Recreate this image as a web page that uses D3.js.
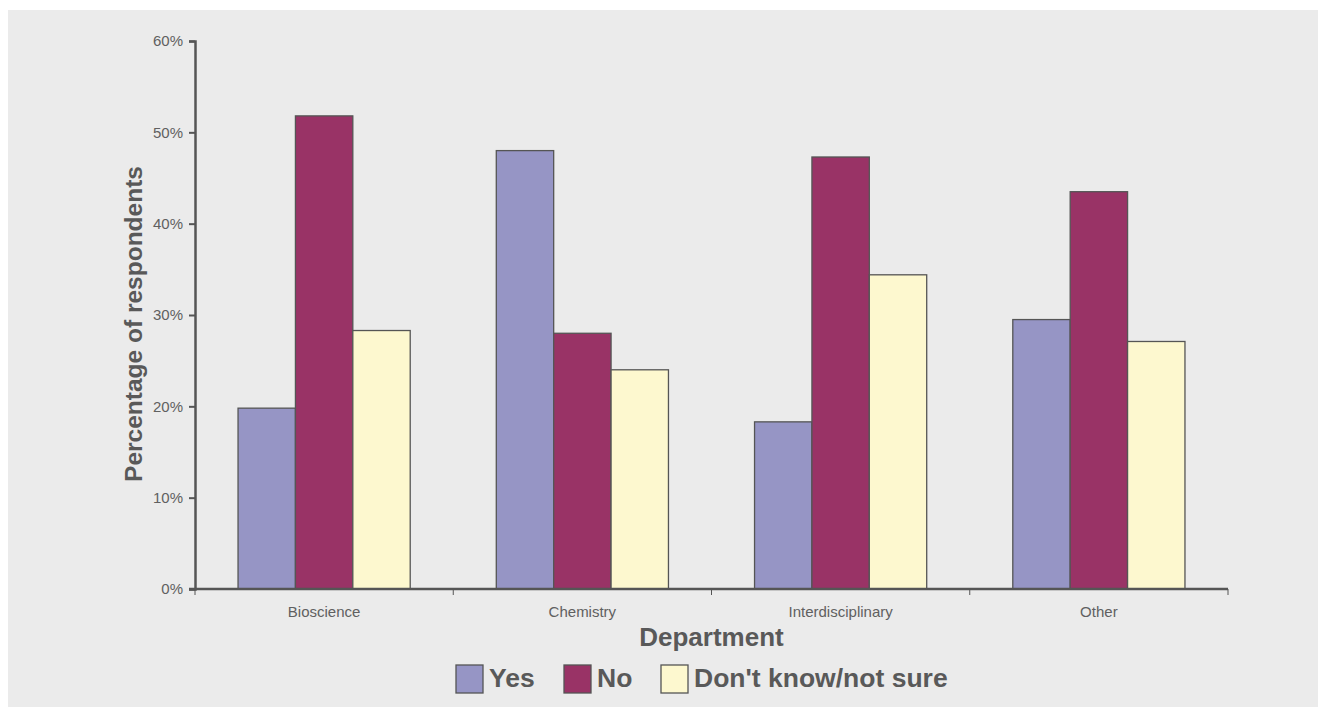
<!DOCTYPE html>
<html>
<head>
<meta charset="utf-8">
<script src="https://cdn.jsdelivr.net/npm/d3@7"></script>
<style>
  html, body { margin: 0; padding: 0; background: #ffffff; }
  svg { display: block; font-family: "Liberation Sans", Arial, sans-serif; }
</style>
</head>
<body>
<svg id="chart" width="1326" height="717"></svg>
<script>
// Survey responses by department (percentage of respondents)
const departments = ["Bioscience", "Chemistry", "Interdisciplinary", "Other"];
const seriesNames = ["Yes", "No", "Don't know/not sure"];
const yesValues = [19.8, 48.0, 18.3, 29.5];
const noValues = [51.8, 28.0, 47.3, 43.5];
const dontKnowValues = [28.3, 24.0, 34.4, 27.1];
const yTicks = [0, 10, 20, 30, 40, 50, 60];
const seriesColors = ["#9695c5", "#993366", "#fdf8cf"];

const seriesValues = [yesValues, noValues, dontKnowValues];
const rows = departments.map((d, i) => ({
  dept: d,
  values: seriesNames.map((s, j) => ({ series: s, value: seriesValues[j][i] }))
}));

const svg = d3.select("#chart");
const textColor = "#595959";
const tickTextColor = "#606060";
const lineColor = "#555555";

// Panel background
svg.append("rect")
  .attr("x", 8).attr("y", 10)
  .attr("width", 1310).attr("height", 697)
  .attr("fill", "#ebebeb");

const plot = { left: 195, right: 1228, top: 41, bottom: 589 };

const x0 = d3.scaleBand()
  .domain(departments)
  .range([plot.left, plot.right])
  .paddingInner(0).paddingOuter(0);

const x1 = d3.scaleBand()
  .domain(seriesNames)
  .range([0, x0.bandwidth()])
  .paddingInner(0)
  .paddingOuter(0.75);

const y = d3.scaleLinear().domain([0, 60]).range([plot.bottom, plot.top]);

// Bars
const groups = svg.append("g").selectAll("g")
  .data(rows).join("g")
  .attr("transform", d => `translate(${x0(d.dept)},0)`);

groups.selectAll("rect")
  .data(d => d.values).join("rect")
  .attr("x", d => x1(d.series))
  .attr("y", d => y(d.value))
  .attr("width", x1.bandwidth())
  .attr("height", d => y(0) - y(d.value))
  .attr("fill", (d, i) => seriesColors[i])
  .attr("stroke", lineColor)
  .attr("stroke-width", 1.3);

// Y axis
const yAxis = svg.append("g")
  .attr("transform", `translate(${plot.left},0)`)
  .call(d3.axisLeft(y).tickValues(yTicks).tickFormat(d => d + "%").tickSize(6).tickPadding(6));
yAxis.select(".domain").attr("stroke", lineColor).attr("stroke-width", 2.5);
yAxis.selectAll(".tick line").attr("stroke", lineColor).attr("stroke-width", 2);
yAxis.selectAll(".tick text").attr("fill", tickTextColor).style("font-size", "15px");

// X axis with ticks between categories
const xAxisG = svg.append("g").attr("transform", `translate(0,${plot.bottom})`);
xAxisG.append("line")
  .attr("x1", plot.left - 6).attr("x2", plot.right)
  .attr("stroke", lineColor).attr("stroke-width", 2.5);
const boundaries = [plot.left].concat(departments.map(d => x0(d) + x0.bandwidth()));
xAxisG.selectAll("line.sep")
  .data(boundaries).join("line")
  .attr("class", "sep")
  .attr("x1", d => d).attr("x2", d => d)
  .attr("y1", 0).attr("y2", 6)
  .attr("stroke", lineColor).attr("stroke-width", 1);
xAxisG.selectAll("text.cat")
  .data(departments).join("text")
  .attr("class", "cat")
  .attr("x", d => x0(d) + x0.bandwidth() / 2)
  .attr("y", 28)
  .attr("text-anchor", "middle")
  .attr("fill", tickTextColor)
  .style("font-size", "15px")
  .text(d => d);

// Axis titles
svg.append("text")
  .attr("transform", `translate(142,${(plot.top + plot.bottom) / 2 + 9}) rotate(-90)`)
  .attr("text-anchor", "middle")
  .attr("fill", textColor)
  .style("font-size", "24.5px").style("font-weight", "bold")
  .text("Percentage of respondents");

svg.append("text")
  .attr("x", (plot.left + plot.right) / 2)
  .attr("y", 646)
  .attr("text-anchor", "middle")
  .attr("fill", textColor)
  .style("font-size", "26px").style("font-weight", "bold")
  .text("Department");

// Legend
const legendX = [456, 564, 661];
const legend = svg.append("g").selectAll("g")
  .data(seriesNames).join("g")
  .attr("transform", (d, i) => `translate(${legendX[i]},665)`);
legend.append("rect")
  .attr("width", 27).attr("height", 28)
  .attr("fill", (d, i) => seriesColors[i])
  .attr("stroke", lineColor).attr("stroke-width", 1.3);
legend.append("text")
  .attr("x", 33).attr("y", 22)
  .attr("fill", textColor)
  .style("font-size", "26.5px").style("font-weight", "bold")
  .text(d => d);
</script>
</body>
</html>
